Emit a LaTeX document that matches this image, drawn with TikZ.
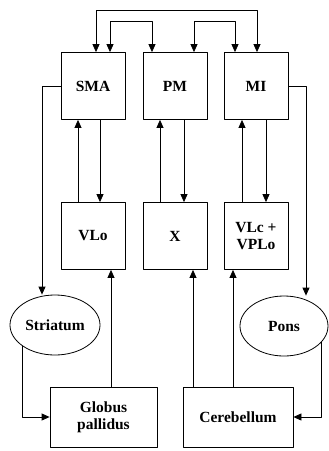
\documentclass[tikz,border=0pt]{standalone}
\usepackage{fontspec}
\setmainfont{Liberation Serif}
\usetikzlibrary{arrows.meta,shapes.geometric}

\begin{document}
\begin{tikzpicture}[x=1pt,y=-1pt,line join=round,line width=0.8pt,>={Triangle[length=8pt,width=7pt]},font=\fontsize{15.5}{17}\selectfont\bfseries,
	area/.style={draw,minimum width=64pt,minimum height=67pt,align=center,inner sep=0pt},
	nucleus/.style={draw,ellipse,minimum width=90pt,minimum height=60pt,inner sep=0pt}]
	\useasboundingbox (0,0) rectangle (329,451);
	% cortex
	\node[area] (sma) at (93,86) {SMA};
	\node[area] (pm) at (175,86) {PM};
	\node[area] (mi) at (256,86) {MI};
	% thalamus
	\node[area] (vlo) at (93,236) {VLo};
	\node[area] (x) at (175,236) {X};
	\node[area] (vlc) at (256,236) {VLc +\\VPLo};
	% basal ganglia, brainstem
	\node[nucleus] (str) at (55,325) {Striatum};
	\node[nucleus,minimum width=88pt] (pons) at (284,326) {Pons};
	\node[area,minimum width=107pt,minimum height=60pt] (gp) at (103.5,417) {Globus\\pallidus};
	\node[area,minimum width=110pt,minimum height=60pt] (cb) at (238,417) {Cerebellum};
	% cortico-cortical loops
	\draw[<->] ([xshift=3pt]sma.north) -- ++(0,-41.5) -| ([xshift=1pt]mi.north);
	\draw[<->] ([xshift=17pt]sma.north) -- ++(0,-30.5) -| ([xshift=-23pt]pm.north);
	\draw[<->] ([xshift=19pt]pm.north) -- ++(0,-30.5) -| ([xshift=-21pt]mi.north);
	% thalamo-cortical
	\draw[->] ([xshift=-15pt]vlo.north) -- ([xshift=-15pt]sma.south);
	\draw[->] ([xshift=7pt]sma.south) -- ([xshift=7pt]vlo.north);
	\draw[->] ([xshift=-15pt]x.north) -- ([xshift=-15pt]pm.south);
	\draw[->] ([xshift=9pt]pm.south) -- ([xshift=9pt]x.north);
	\draw[->] ([xshift=-14pt]vlc.north) -- ([xshift=-14pt]mi.south);
	\draw[->] ([xshift=10pt]mi.south) -- ([xshift=10pt]vlc.north);
	% descending
	\draw[->] (sma.west) -| ([xshift=-13pt]str.north);
	\draw[->] (mi.east) -| ([xshift=22pt]pons.north);
	\draw[->] (str.213) |- (gp.west);
	\draw[->] (pons.337) |- (cb.east);
	% ascending
	\draw[->] ([xshift=7.5pt]gp.north) -- ([xshift=7.5pt]gp.north |- vlo.south);
	\draw[->] ([xshift=-45pt]cb.north) -- ([xshift=-45pt]cb.north |- x.south);
	\draw[->] ([xshift=-5pt]cb.north) -- ([xshift=-5pt]cb.north |- vlc.south);
\end{tikzpicture}
\end{document}
